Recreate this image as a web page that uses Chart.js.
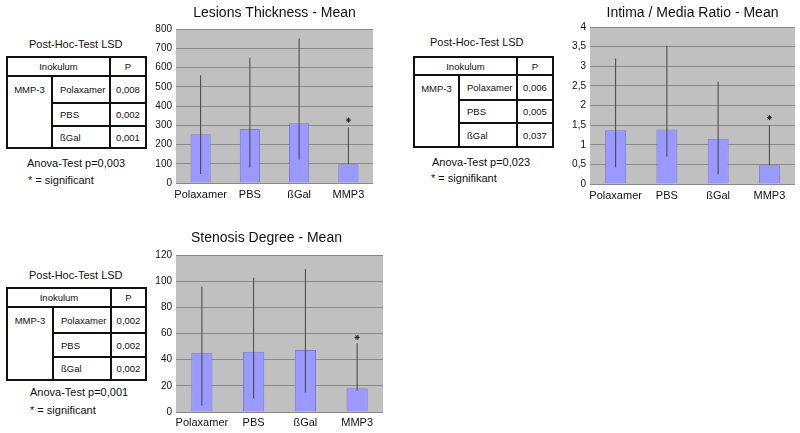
<!DOCTYPE html>
<html>
<head>
<meta charset="utf-8">
<script src="https://cdn.jsdelivr.net/npm/chart.js@4.4.0/dist/chart.umd.min.js"></script>
<style>
  body { margin: 0; width: 800px; height: 433px; position: relative; overflow: hidden; background: #fff;
         font-family: "Liberation Sans", Arial, sans-serif; color: #111; }
  canvas { position: absolute; }
  .lbl { position: absolute; font-size: 11px; line-height: 13px; white-space: nowrap; }
  table { position: absolute; border-collapse: collapse; table-layout: fixed; font-size: 9.5px; }
  td { border: 2px solid #111; padding: 0 0 0 7px; white-space: nowrap; overflow: hidden; }
  td.c { text-align: center; padding: 0; }
  td.top { vertical-align: top; padding-top: 7px; }
</style>
</head>
<body>
<canvas id="lesions" width="254" height="205" style="left:150px;top:0px"></canvas>
<canvas id="ratio" width="240" height="205" style="left:560px;top:0px"></canvas>
<canvas id="stenosis" width="240" height="218" style="left:150px;top:215px"></canvas>

<div class="lbl" style="left:29px;top:38px">Post-Hoc-Test LSD</div>
<div class="lbl" style="left:27px;top:157px">Anova-Test p=0,003</div>
<div class="lbl" style="left:28px;top:174px">* = significant</div>

<div class="lbl" style="left:430px;top:36px">Post-Hoc-Test LSD</div>
<div class="lbl" style="left:432px;top:156px">Anova-Test p=0,023</div>
<div class="lbl" style="left:431px;top:172px">* = signifikant</div>

<div class="lbl" style="left:29px;top:269px">Post-Hoc-Test LSD</div>
<div class="lbl" style="left:30px;top:386px">Anova-Test p=0,001</div>
<div class="lbl" style="left:30px;top:404px">* = significant</div>

<script>
var categories = ['Polaxamer', 'PBS', 'ßGal', 'MMP3'];

var lesionMean = [253, 280, 310, 97];
var lesionLow = [47, 80, 121, 97];
var lesionHigh = [560, 651, 751, 288];
var lesionStar = [null, null, null, 327];

var ratioMean = [1.37, 1.39, 1.15, 0.48];
var ratioLow = [0.42, 0.70, 0.25, 0.48];
var ratioHigh = [3.20, 3.52, 2.61, 1.50];
var ratioStar = [null, null, null, 1.69];

var stenosisMean = [45.3, 46.1, 47.4, 18.1];
var stenosisLow = [4.8, 10.4, 15.0, 16.5];
var stenosisHigh = [95.8, 102.7, 109.3, 52.5];
var stenosisStar = [null, null, null, 57];

var compareGroups = ['Polaxamer', 'PBS', 'ßGal'];
var lesionP = ['0,008', '0,002', '0,001'];
var ratioP = ['0,006', '0,005', '0,037'];
var stenosisP = ['0,002', '0,002', '0,002'];

var fontFamily = '"Liberation Sans", Arial, sans-serif';

// grey plot area like the old excel charts
var plotBg = {
    id: 'plotBg',
    beforeDraw: function(chart) {
        var a = chart.chartArea;
        chart.ctx.save();
        chart.ctx.fillStyle = '#c0c0c0';
        chart.ctx.fillRect(a.left, a.top, a.right - a.left, a.bottom - a.top);
        chart.ctx.restore();
    }
};

function drawChart(id, title, mean, low, high, star, yMax, yStep, box) {
    var ranges = low.map(function(l, i) { return [l, high[i]]; });
    return new Chart(document.getElementById(id), {
        type: 'bar',
        data: {
            labels: categories,
            datasets: [{
                type: 'line',
                data: star,
                showLine: false,
                pointStyle: 'star',
                pointRadius: 2.5,
                borderColor: '#222',
                borderWidth: 1,
                order: 0
            }, {
                data: ranges,
                backgroundColor: '#444',
                barThickness: 1,
                inflateAmount: 0,
                grouped: false,
                order: 1
            }, {
                data: mean,
                backgroundColor: '#9999ff',
                borderColor: '#7a7ad8',
                borderWidth: 1,
                categoryPercentage: 1,
                barPercentage: 0.41,
                grouped: false,
                order: 2
            }]
        },
        options: {
            responsive: false,
            animation: false,
            layout: { padding: { left: 0, right: box.padRight, top: 0, bottom: 0 } },
            scales: {
                x: {
                    grid: { display: false, drawTicks: false },
                    border: { display: false },
                    ticks: {
                        color: '#111',
                        padding: box.xPad,
                        maxRotation: 0,
                        autoSkip: false,
                        font: { family: fontFamily, size: 11 }
                    },
                    afterFit: function(s) { s.height = box.xH; }
                },
                y: {
                    min: 0,
                    max: yMax,
                    grid: { color: '#8a8a8a', drawTicks: false },
                    border: { display: false },
                    ticks: {
                        stepSize: yStep,
                        padding: 4,
                        color: '#111',
                        font: { family: fontFamily, size: 10 },
                        callback: function(v) { return String(v).replace('.', ','); }
                    },
                    afterFit: function(s) { s.width = box.yW; }
                }
            },
            plugins: {
                legend: { display: false },
                tooltip: { enabled: false },
                title: {
                    display: true,
                    text: title,
                    color: '#111',
                    fullSize: box.fullTitle,
                    font: { family: fontFamily, size: 14, weight: 'normal' },
                    padding: { top: box.tTop, bottom: box.tBottom }
                }
            }
        },
        plugins: [plotBg]
    });
}

function buildTable(left, top, colW, rowH, pVals) {
    var t = document.createElement('table');
    t.style.left = left + 'px';
    t.style.top = top + 'px';
    var html = '<colgroup>' + colW.map(function(w) { return '<col style="width:' + w + 'px">'; }).join('') + '</colgroup>';
    html += '<tr style="height:' + rowH[0] + 'px"><td class="c" colspan="2">Inokulum</td><td class="c">P</td></tr>';
    compareGroups.forEach(function(g, i) {
        html += '<tr style="height:' + rowH[i + 1] + 'px">';
        if (i === 0) html += '<td class="c top" rowspan="3">MMP-3</td>';
        html += '<td>' + g + '</td><td class="c">' + pVals[i] + '</td></tr>';
    });
    t.innerHTML = html;
    document.body.appendChild(t);
}

buildTable(6, 56, [45, 58, 36], [19, 27, 23, 22], lesionP);
buildTable(413, 56, [45, 58, 36], [18, 25, 23, 24], ratioP);
buildTable(6, 287, [46, 58, 35], [19, 26, 24, 23], stenosisP);

drawChart('lesions', 'Lesions Thickness - Mean', lesionMean, lesionLow, lesionHigh, lesionStar, 800, 100,
    { yW: 26, xH: 22, xPad: 5, padRight: 31, tTop: 4.6, tBottom: 7.6, fullTitle: false });
drawChart('ratio', 'Intima / Media Ratio - Mean', ratioMean, ratioLow, ratioHigh, ratioStar, 4, 0.5,
    { yW: 30, xH: 21, xPad: 5, padRight: 3, tTop: 4.6, tBottom: 5.6, fullTitle: false });
drawChart('stenosis', 'Stenosis Degree - Mean', stenosisMean, stenosisLow, stenosisHigh, stenosisStar, 120, 20,
    { yW: 26, xH: 21, xPad: 4, padRight: 7, tTop: 14.6, tBottom: 8.6, fullTitle: true });
</script>
</body>
</html>
